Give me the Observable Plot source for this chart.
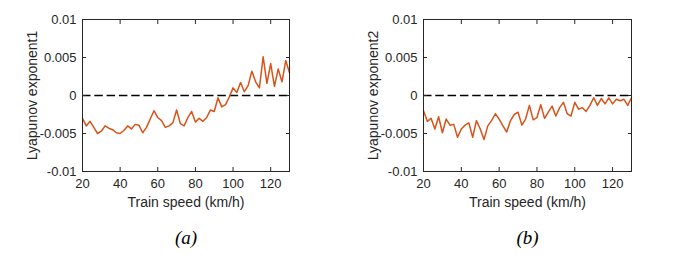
<!DOCTYPE html>
<html>
<head>
<meta charset="utf-8">
<script src="https://cdn.jsdelivr.net/npm/d3@7"></script>
<script src="https://cdn.jsdelivr.net/npm/@observablehq/plot@0.6"></script>
<style>
  html, body { margin: 0; padding: 0; background: #fff; }
  #wrap { position: relative; width: 673px; height: 259px; overflow: hidden; }
  #wrap svg { position: absolute; top: 0; }
</style>
</head>
<body>
<div id="wrap"></div>
<script>
// Train speed (km/h), 20..130 step 2
const speeds = [20,22,24,26,28,30,32,34,36,38,40,42,44,46,48,50,52,54,56,58,60,62,64,66,68,70,72,74,76,78,80,82,84,86,88,90,92,94,96,98,100,102,104,106,108,110,112,114,116,118,120,122,124,126,128,130];

const exponent1 = [-0.0030,-0.0040,-0.0034,-0.0042,-0.0050,-0.0047,-0.0040,-0.0043,-0.0045,-0.0049,
  -0.0050,-0.0046,-0.0040,-0.0044,-0.0038,-0.0039,-0.0049,-0.0042,-0.0031,-0.0020,
  -0.0029,-0.0033,-0.0042,-0.0040,-0.0036,-0.0019,-0.0037,-0.0040,-0.0029,-0.0021,
  -0.0035,-0.0030,-0.0034,-0.0029,-0.0019,-0.0021,-0.0003,-0.0015,-0.0012,-0.0002,
  0.0010,0.0004,0.0017,0.0005,0.0013,0.0032,0.0018,0.0010,0.0051,0.0016,
  0.0042,0.0012,0.0035,0.0018,0.0046,0.0030];

const exponent2 = [-0.0020,-0.0034,-0.0030,-0.0044,-0.0028,-0.0049,-0.0031,-0.0039,-0.0038,-0.0055,
  -0.0044,-0.0039,-0.0036,-0.0055,-0.0033,-0.0044,-0.0058,-0.0040,-0.0033,-0.0024,
  -0.0031,-0.0040,-0.0048,-0.0033,-0.0025,-0.0022,-0.0039,-0.0031,-0.0013,-0.0032,
  -0.0029,-0.0012,-0.0030,-0.0022,-0.0014,-0.0027,-0.0016,-0.0009,-0.0024,-0.0027,
  -0.0009,-0.0018,-0.0016,-0.0021,-0.0013,-0.0003,-0.0013,-0.0004,-0.0011,-0.0003,
  -0.0011,-0.0005,-0.0007,-0.0005,-0.0013,-0.0003];

const xTicks = [20,40,60,80,100,120];
const yTicks = [-0.01,-0.005,0,0.005,0.01];
const panels = [
  {values: exponent1, ylabel: "Lyapunov exponent1", tag: "(a)"},
  {values: exponent2, ylabel: "Lyapunov exponent2", tag: "(b)"}
];

const layout = [
  {left: 0, width: 336, marginLeft: 82, marginRight: 47},
  {left: 336, width: 337, marginLeft: 87, marginRight: 42}
];

const ink = "#262626";
const fmtY = d => d === 0 ? "0" : String(d);

panels.forEach((p, i) => {
  const L = layout[i];
  const data = speeds.map((s, j) => ({speed: s, value: p.values[j]}));
  const svg = Plot.plot({
    width: L.width,
    height: 259,
    marginLeft: L.marginLeft,
    marginRight: L.marginRight,
    marginTop: 19,
    marginBottom: 88,
    style: {fontFamily: "'Liberation Sans', Arial, sans-serif", fontSize: "13px", color: ink, background: "white"},
    x: {domain: [20, 130]},
    y: {domain: [-0.01, 0.01]},
    marks: [
      Plot.ruleY([0], {stroke: "black", strokeWidth: 1.4, strokeDasharray: "8.5,3.8"}),
      Plot.line(data, {x: "speed", y: "value", stroke: "#D95319", strokeWidth: 1.5}),
      Plot.frame({stroke: ink, strokeWidth: 1}),
      Plot.axisX(xTicks, {anchor: "bottom", tickSize: -4, tickPadding: 11, tickFormat: d => String(d), label: null, fill: ink, stroke: ink}),
      Plot.axisX(xTicks, {anchor: "top", tickSize: -4, tickFormat: () => "", label: null, stroke: ink}),
      Plot.axisY(yTicks, {anchor: "left", tickSize: -4, tickPadding: 10, tickFormat: fmtY, label: null, fill: ink, stroke: ink}),
      Plot.axisY(yTicks, {anchor: "right", tickSize: -4, tickFormat: () => "", label: null, stroke: ink}),
      Plot.text([p.ylabel], {text: d => d, frameAnchor: "left", textAnchor: "middle", rotate: -90, dx: -50, fontSize: 14, fill: ink}),
      Plot.text(["Train speed (km/h)"], {text: d => d, frameAnchor: "bottom", textAnchor: "middle", dy: 35, fontSize: 14, fill: ink}),
      Plot.text([p.tag], {text: d => d, frameAnchor: "bottom", textAnchor: "middle", dy: 72, fontSize: 19, fontStyle: "italic", fontFamily: "'Liberation Serif', 'Times New Roman', serif", fill: "black"})
    ]
  });
  svg.style.left = L.left + "px";
  document.getElementById("wrap").appendChild(svg);
});
</script>
</body>
</html>
